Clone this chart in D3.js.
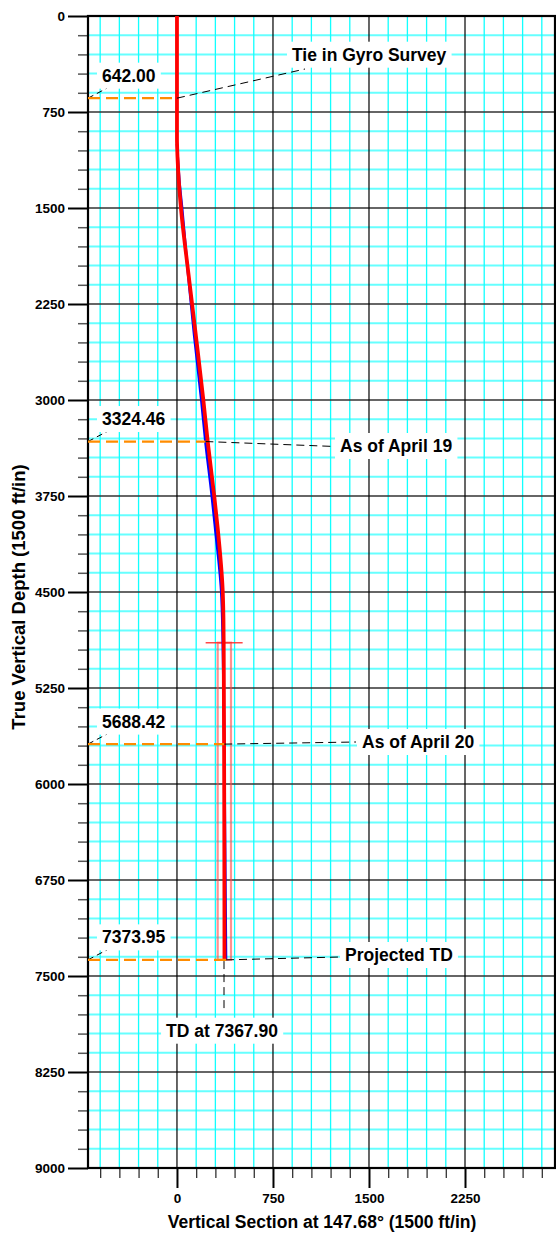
<!DOCTYPE html>
<html>
<head>
<meta charset="utf-8">
<script src="https://cdn.jsdelivr.net/npm/d3@7"></script>
<style>
  html, body { margin: 0; padding: 0; background: #fff; }
  svg { display: block; }
  text { font-family: "Liberation Sans", Arial, Helvetica, sans-serif; font-weight: bold; fill: #000; }
</style>
</head>
<body>
<svg id="chart" width="556" height="1233"></svg>
<script>
// ---------------- data ----------------
const planDepth = [0, 950, 1100, 1300, 1500, 2000, 2500, 3000, 3324.46, 3750, 4000, 4484, 4700, 4900, 5688.42, 6500, 7373.95];
const planVS    = [0, 0,   4,    15,   31,   88,   148,  206,  240,     291,  318,  357,  363,  365,  368,     370,  371];

const actualDepth = [1000, 1100, 1300, 1500, 2000, 2500, 3000, 3324.46, 3750, 4000, 4484, 4900, 5300, 5688.42, 6500, 7000, 7367.9];
const actualVS    = [0,    6,    20,   40,   85,   135,  190,  222,     272,  298,  345,  358,  364,  369,     376,  380,  383];

const markerDepths = [642.00, 3324.46, 5688.42, 7373.95];
const markerLabels = ["642.00", "3324.46", "5688.42", "7373.95"];
const markerNotes  = ["Tie in Gyro Survey", "As of April 19", "As of April 20", "Projected TD"];
const tdDepth = 7367.90;
const tdLabel = "TD at 7367.90";

// target window
const windowVS = [318, 422];
const windowDepth = [4896, 7373.95];
const windowBarVS = [224, 513];

const yTickValues = d3.range(0, 9001, 750);
const xTickValues = [0, 750, 1500, 2250];
const xTitle = "Vertical Section at 147.68\u00b0 (1500 ft/in)";
const yTitle = "True Vertical Depth (1500 ft/in)";

// ---------------- layout ----------------
const L = 88, R = 555, T = 16, B = 1168;
const svg = d3.select("#chart");
const x = d3.scaleLinear().domain([-695, 2953]).range([L, R]);
const y = d3.scaleLinear().domain([0, 9000]).range([T, B]);

const noteLayout = [
  { tx: 292, base: 60.7, lx: 305, ly: 69 },
  { tx: 340, base: 452,  lx: 335, ly: 446.5 },
  { tx: 362, base: 748,  lx: 356, ly: 742 },
  { tx: 345, base: 961,  lx: 340, ly: 957 }
];

// ---------------- grid ----------------
const g = svg.append("g");
const minorX = d3.range(-600, 2953, 150);
const minorY = d3.range(0, 9001, 150);

g.selectAll(".hgrid").data(minorY.filter(d => d % 750 !== 0)).join("line")
  .attr("x1", L).attr("x2", R).attr("y1", d => y(d)).attr("y2", d => y(d))
  .attr("stroke", "#6ff").attr("stroke-width", 2);
g.selectAll(".vgrid").data(minorX.filter(d => d % 750 !== 0)).join("line")
  .attr("y1", T).attr("y2", B).attr("x1", d => x(d)).attr("x2", d => x(d))
  .attr("stroke", "#1ff").attr("stroke-width", 1.3);
g.selectAll(".hmaj").data(yTickValues.slice(1, -1)).join("line")
  .attr("x1", L).attr("x2", R).attr("y1", d => y(d)).attr("y2", d => y(d))
  .attr("stroke", "#333").attr("stroke-width", 1.4);
g.selectAll(".vmaj").data(xTickValues).join("line")
  .attr("y1", T).attr("y2", B).attr("x1", d => x(d)).attr("x2", d => x(d))
  .attr("stroke", "#000").attr("stroke-width", 1.2);

// ---------------- axes ----------------
const tickFont = a => a.selectAll("text").attr("font-size", 13.5)
  .attr("font-family", "Liberation Sans, Arial, sans-serif").attr("font-weight", "bold").attr("fill", "#000");

const yAxisMinor = d3.axisLeft(y).tickValues(minorY.filter(d => d % 750 !== 0)).tickSize(10).tickFormat("");
svg.append("g").attr("transform", `translate(${L},0)`).call(yAxisMinor)
  .call(a => a.select(".domain").remove())
  .call(a => a.selectAll("line").attr("stroke", "#555").attr("stroke-width", 1.5));
const yAxis = d3.axisLeft(y).tickValues(yTickValues).tickSize(20).tickPadding(3).tickFormat(d3.format("d"));
svg.append("g").attr("transform", `translate(${L},0)`).call(yAxis)
  .call(a => a.select(".domain").remove())
  .call(a => a.selectAll("line").attr("stroke", "#000").attr("stroke-width", 2))
  .call(tickFont);

const xAxisMinor = d3.axisBottom(x).tickValues(minorX.filter(d => d % 750 !== 0)).tickSize(10).tickFormat("");
svg.append("g").attr("transform", `translate(0,${B})`).call(xAxisMinor)
  .call(a => a.select(".domain").remove())
  .call(a => a.selectAll("line").attr("stroke", "#333").attr("stroke-width", 1.3));
const xAxis = d3.axisBottom(x).tickValues(xTickValues).tickSize(20).tickPadding(5).tickFormat(d3.format("d"));
svg.append("g").attr("transform", `translate(0,${B})`).call(xAxis)
  .call(a => a.select(".domain").remove())
  .call(a => a.selectAll("line").attr("stroke", "#000").attr("stroke-width", 2))
  .call(tickFont);

// frame
svg.append("rect").attr("x", L).attr("y", T).attr("width", R - L).attr("height", B - T)
  .attr("fill", "none").attr("stroke", "#000").attr("stroke-width", 2.2);

// titles
svg.append("text").attr("x", 322).attr("y", 1228).attr("text-anchor", "middle")
  .attr("font-size", 17.5).text(xTitle);
svg.append("text").attr("transform", "translate(25,597) rotate(-90)").attr("text-anchor", "middle")
  .attr("font-size", 18.5).text(yTitle);

// ---------------- target window ----------------
const win = svg.append("g").attr("fill", "none");
win.append("rect")
  .attr("x", x(windowVS[0])).attr("y", y(windowDepth[0]))
  .attr("width", x(windowVS[1]) - x(windowVS[0])).attr("height", y(windowDepth[1]) - y(windowDepth[0]))
  .attr("stroke", "rgba(255,70,70,0.6)").attr("stroke-width", 2.2);
win.append("line")
  .attr("x1", x(windowBarVS[0])).attr("x2", x(windowBarVS[1]))
  .attr("y1", y(windowDepth[0])).attr("y2", y(windowDepth[0]))
  .attr("stroke", "rgba(255,40,40,0.85)").attr("stroke-width", 1.4);

// ---------------- well paths ----------------
const line = d3.line().x(d => x(d[1])).y(d => y(d[0])).curve(d3.curveMonotoneY);
const actualPts = actualDepth.map((d, i) => [d, actualVS[i]]);
const planPts = planDepth.map((d, i) => [d, planVS[i]]);
svg.append("path").attr("d", line(actualPts)).attr("fill", "none")
  .attr("stroke", "#0000ff").attr("stroke-width", 2.6);
svg.append("path").attr("d", line(planPts)).attr("fill", "none")
  .attr("stroke", "#ff0000").attr("stroke-width", 3.8);

// ---------------- annotations ----------------
function vsAt(depth) {
  const pts = depth < actualDepth[0] ? planPts : actualPts;
  for (let i = 1; i < pts.length; i++) {
    if (depth <= pts[i][0]) {
      const t = (depth - pts[i - 1][0]) / (pts[i][0] - pts[i - 1][0]);
      return pts[i - 1][1] + t * (pts[i][1] - pts[i - 1][1]);
    }
  }
  return pts[pts.length - 1][1];
}

function labelBox(parent, tx, base, str, anchor) {
  const t = parent.append("text").attr("x", tx).attr("y", base).attr("font-size", 17.5)
    .attr("text-anchor", anchor || "start").text(str);
  const bb = t.node().getBBox();
  parent.insert("rect", "text").attr("x", bb.x - 5).attr("y", base - 19)
    .attr("width", bb.width + 10).attr("height", 26).attr("fill", "#fff");
}

const ann = svg.append("g");
markerDepths.forEach((d, i) => {
  const my = y(d);
  const wx = x(vsAt(d));
  const lay = noteLayout[i];
  const grp = ann.append("g");
  grp.append("line").attr("x1", wx).attr("y1", my).attr("x2", lay.lx).attr("y2", lay.ly)
    .attr("stroke", "#000").attr("stroke-width", 1).attr("stroke-dasharray", "8,5");
  grp.append("line").attr("x1", L).attr("y1", my).attr("x2", L + 19).attr("y2", my - 10)
    .attr("stroke", "#000").attr("stroke-width", 1).attr("stroke-dasharray", "6,4");
  grp.append("line").attr("x1", L).attr("y1", my).attr("x2", wx).attr("y2", my)
    .attr("stroke", "#ff8c00").attr("stroke-width", 2.2).attr("stroke-dasharray", "12,6");
  labelBox(grp.append("g"), 102, my - 16.5, markerLabels[i], "start");
  labelBox(grp.append("g"), lay.tx, lay.base, markerNotes[i], "start");
});

// TD annotation
const tdx = x(vsAt(tdDepth)) - 2;
ann.append("line").attr("x1", tdx).attr("x2", tdx).attr("y1", y(tdDepth) + 2).attr("y2", 1012)
  .attr("stroke", "#000").attr("stroke-width", 1).attr("stroke-dasharray", "8,5");
labelBox(ann.append("g"), tdx - 2, 1036.7, tdLabel, "middle");
</script>
</body>
</html>
